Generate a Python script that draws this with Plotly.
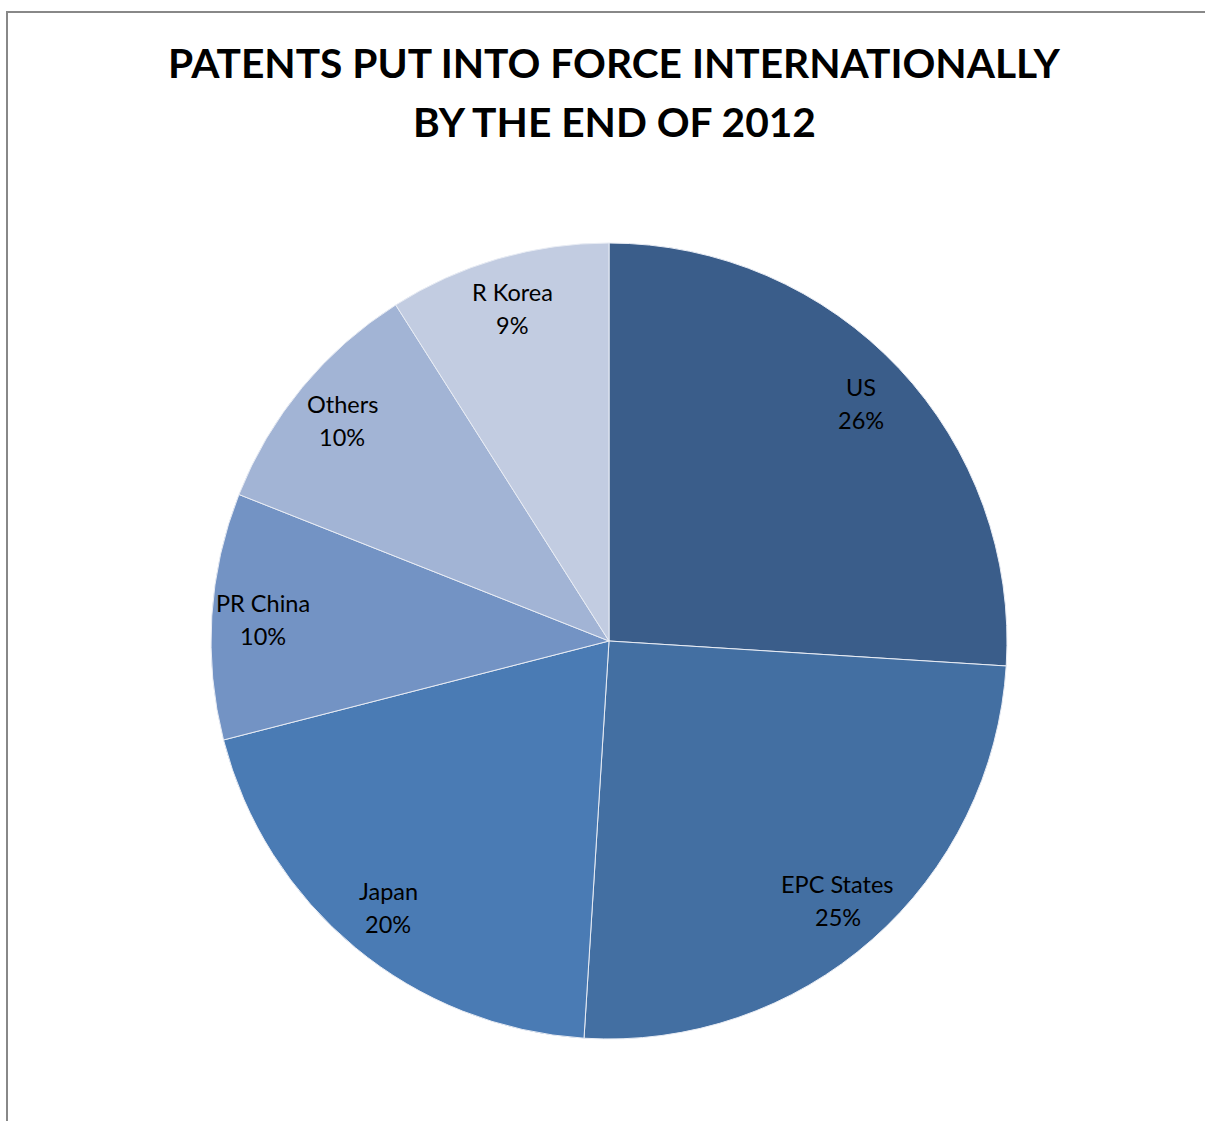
import math
import plotly.graph_objects as go

labels = ["US", "EPC States", "Japan", "PR China", "Others", "R Korea"]
values = [26, 25, 20, 10, 10, 9]
colors = ["#3A5D8A", "#436FA2", "#4A7BB4", "#7393C4", "#A2B4D5", "#C2CCE1"]
title_lines = ["PATENTS PUT INTO FORCE INTERNATIONALLY", "BY THE END OF 2012"]

W, H = 1205, 1121
cx, cy, R = 609, 641, 398

fig = go.Figure(go.Pie(
    labels=labels, values=values, sort=False, direction="clockwise", rotation=0,
    marker=dict(colors=colors, line=dict(color="#E8ECF4", width=1)),
    textinfo="none", hoverinfo="label+percent", showlegend=False,
    domain=dict(x=[(cx - R) / W, (cx + R) / W], y=[1 - (cy + R) / H, 1 - (cy - R) / H]),
))

total = sum(values)
cum = 0
annotations = []
lab_font = dict(family="Lato, sans-serif", size=23.5, color="#000000")
for lab, v in zip(labels, values):
    mid = (cum + v / 2) / total * 2 * math.pi
    cum += v
    rr = 0.87 * R
    px = cx + rr * math.sin(mid)
    py = cy - rr * math.cos(mid)
    for txt, dy in ((lab, -16.5), (f"{round(v / total * 100)}%", 16.5)):
        annotations.append(dict(
            x=px / W, y=1 - (py + dy) / H, xref="paper", yref="paper", showarrow=False,
            xanchor="center", yanchor="middle", text=txt, font=lab_font,
        ))

for txt, ty in zip(title_lines, (63, 121)):
    annotations.append(dict(
        x=614 / W, y=1 - ty / H, xref="paper", yref="paper", showarrow=False,
        xanchor="center", yanchor="middle", text=f"<b>{txt}</b>",
        font=dict(family="Lato, sans-serif", size=40.7, color="#000000"),
    ))

fig.update_layout(
    width=W, height=H, margin=dict(l=0, r=0, t=0, b=0),
    paper_bgcolor="white", plot_bgcolor="white",
    annotations=annotations,
    shapes=[dict(type="rect", xref="paper", yref="paper",
                 x0=7 / W, x1=1.05, y0=-0.05, y1=1 - 12 / H,
                 line=dict(color="#888888", width=2))],
)
fig.write_html("out.html")
